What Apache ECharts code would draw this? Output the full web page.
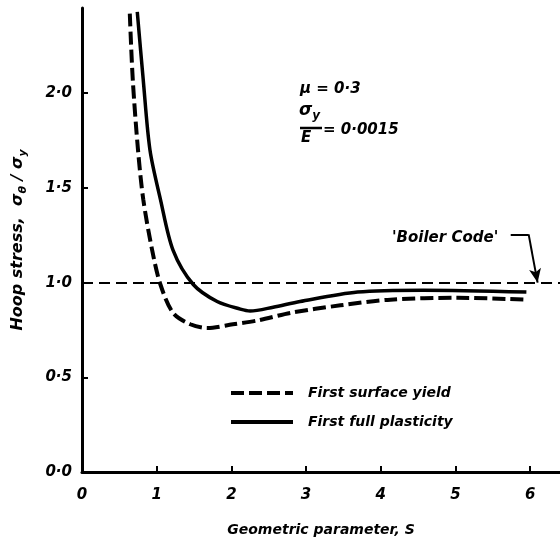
<!DOCTYPE html>
<html>
<head>
<meta charset="utf-8">
<script src="https://cdn.jsdelivr.net/npm/echarts@6/dist/echarts.min.js"></script>
<style>html,body{margin:0;padding:0;background:#fff}#c{width:560px;height:539px}</style>
</head>
<body>
<div id="c"></div>
<script>
// Data
const xTicks = [0, 1, 2, 3, 4, 5, 6];
const yTicks = [0, 0.5, 1.0, 1.5, 2.0];
const surfaceYieldX = [0.64, 0.68, 0.75, 0.82, 0.94, 1.05, 1.22, 1.45, 1.68, 2.02, 2.35, 2.79, 3.46, 4.13, 5.03, 5.95];
const surfaceYieldY = [2.42, 2.07, 1.70, 1.44, 1.17, 0.99, 0.84, 0.78, 0.76, 0.78, 0.80, 0.84, 0.88, 0.91, 0.92, 0.91];
const fullPlasticityX = [0.74, 0.82, 0.91, 1.05, 1.22, 1.49, 1.81, 2.12, 2.25, 2.56, 2.92, 3.69, 4.57, 5.95];
const fullPlasticityY = [2.43, 2.07, 1.70, 1.44, 1.17, 0.99, 0.90, 0.86, 0.85, 0.87, 0.90, 0.95, 0.96, 0.95];
const boilerCode = 1.0;
const seriesNames = ['First surface yield', 'First full plasticity'];

const FONT = 'DejaVu Sans';
const F = s => 'italic bold ' + s + 'px "DejaVu Sans"';
const pair = (xs, ys) => xs.map((x, i) => [x, ys[i]]);

const chart = echarts.init(document.getElementById('c'));
chart.setOption({
  animation: false,
  backgroundColor: '#fff',
  grid: { left: 82, right: 0, top: 8, bottom: 67, containLabel: false, outerBoundsMode: 'none' },
  xAxis: {
    type: 'value', min: 0, max: 6.4,
    axisLine: { lineStyle: { color: '#000', width: 3 } },
    axisTick: { inside: true, length: 6, lineStyle: { color: '#000', width: 2 }, customValues: xTicks },
    axisLabel: { customValues: xTicks, formatter: v => String(v), color: '#000', fontFamily: FONT, fontStyle: 'italic', fontWeight: 'bold', fontSize: 15, margin: 16 },
    splitLine: { show: false },
    name: 'Geometric parameter, S', nameLocation: 'middle', nameGap: 51,
    nameTextStyle: { color: '#000', fontFamily: FONT, fontStyle: 'italic', fontWeight: 'bold', fontSize: 14 }
  },
  yAxis: {
    type: 'value', min: 0, max: 2.45,
    axisLine: { lineStyle: { color: '#000', width: 3 } },
    axisTick: { inside: true, length: 6, lineStyle: { color: '#000', width: 2 }, customValues: yTicks },
    axisLabel: { customValues: yTicks, formatter: v => v.toFixed(1).replace('.', '·'), color: '#000', fontFamily: FONT, fontStyle: 'italic', fontWeight: 'bold', fontSize: 15, margin: 10 },
    splitLine: { show: false },
    name: '{a|Hoop stress,  σ}{s|θ}{a| / σ}{s|y}', nameLocation: 'middle', nameGap: 53, nameRotate: 90,
    nameTextStyle: {
      color: '#000', fontFamily: FONT, fontStyle: 'italic', fontWeight: 'bold', fontSize: 15,
      rich: {
        a: { color: '#000', fontFamily: FONT, fontStyle: 'italic', fontWeight: 'bold', fontSize: 16, lineHeight: 22, verticalAlign: 'middle' },
        s: { color: '#000', fontFamily: FONT, fontStyle: 'italic', fontWeight: 'bold', fontSize: 11, lineHeight: 22, verticalAlign: 'bottom' }
      }
    }
  },
  legend: {
    data: seriesNames, orient: 'vertical', left: 224, top: 381, itemWidth: 62, itemHeight: 16, itemGap: 15,
    itemStyle: { color: 'rgba(0,0,0,0)', borderColor: 'rgba(0,0,0,0)', borderWidth: 0, opacity: 0 },
    lineStyle: { width: 4 },
    textStyle: { color: '#000', fontFamily: FONT, fontStyle: 'italic', fontWeight: 'bold', fontSize: 14, padding: [0, 0, 0, 10] }
  },
  series: [
    {
      name: seriesNames[0], type: 'line', data: pair(surfaceYieldX, surfaceYieldY),
      smooth: 0.3, showSymbol: false, symbol: 'none',
      lineStyle: { color: '#000', width: 4, type: [13, 5] }, itemStyle: { color: '#000' }
    },
    {
      name: seriesNames[1], type: 'line', data: pair(fullPlasticityX, fullPlasticityY),
      smooth: 0.3, showSymbol: false, symbol: 'none',
      lineStyle: { color: '#000', width: 3.5 }, itemStyle: { color: '#000' }
    },
    {
      name: 'annot', type: 'line', data: [], silent: true,
      markLine: {
        silent: true, symbol: ['none', 'none'], label: { show: false },
        lineStyle: { color: '#000', width: 2, type: [11, 6] },
        data: [
          [{ coord: [0, boilerCode] }, { coord: [6.4, boilerCode] }],
          [{ coord: [5.74, 1.255], lineStyle: { type: 'solid', width: 2 } }, { coord: [5.98, 1.255] }],
          [{ coord: [5.98, 1.255], lineStyle: { type: 'solid', width: 2 }, symbol: 'none' }, { coord: [6.1, 1.0], symbol: 'arrow', symbolSize: [9, 14] }]
        ]
      }
    }
  ],
  graphic: [
    { type: 'text', left: 300, top: 82, style: { text: 'μ = 0·3', fill: '#000', font: F(15) } },
    { type: 'text', left: 299, top: 102, style: { text: '{a|σ}{s|y}', fill: '#000', font: F(15),
        rich: { a: { font: F(17), lineHeight: 22, verticalAlign: 'middle' }, s: { font: F(12), lineHeight: 22, verticalAlign: 'bottom' } } } },
    { type: 'line', shape: { x1: 300, y1: 128, x2: 322, y2: 128 }, style: { stroke: '#000', lineWidth: 2.5 } },
    { type: 'text', left: 301, top: 131, style: { text: 'E', fill: '#000', font: F(15) } },
    { type: 'text', left: 323, top: 123, style: { text: '= 0·0015', fill: '#000', font: F(15) } },
    { type: 'text', left: 392, top: 231, style: { text: "'Boiler Code'", fill: '#000', font: F(15) } }
  ]
});
</script>
</body>
</html>
